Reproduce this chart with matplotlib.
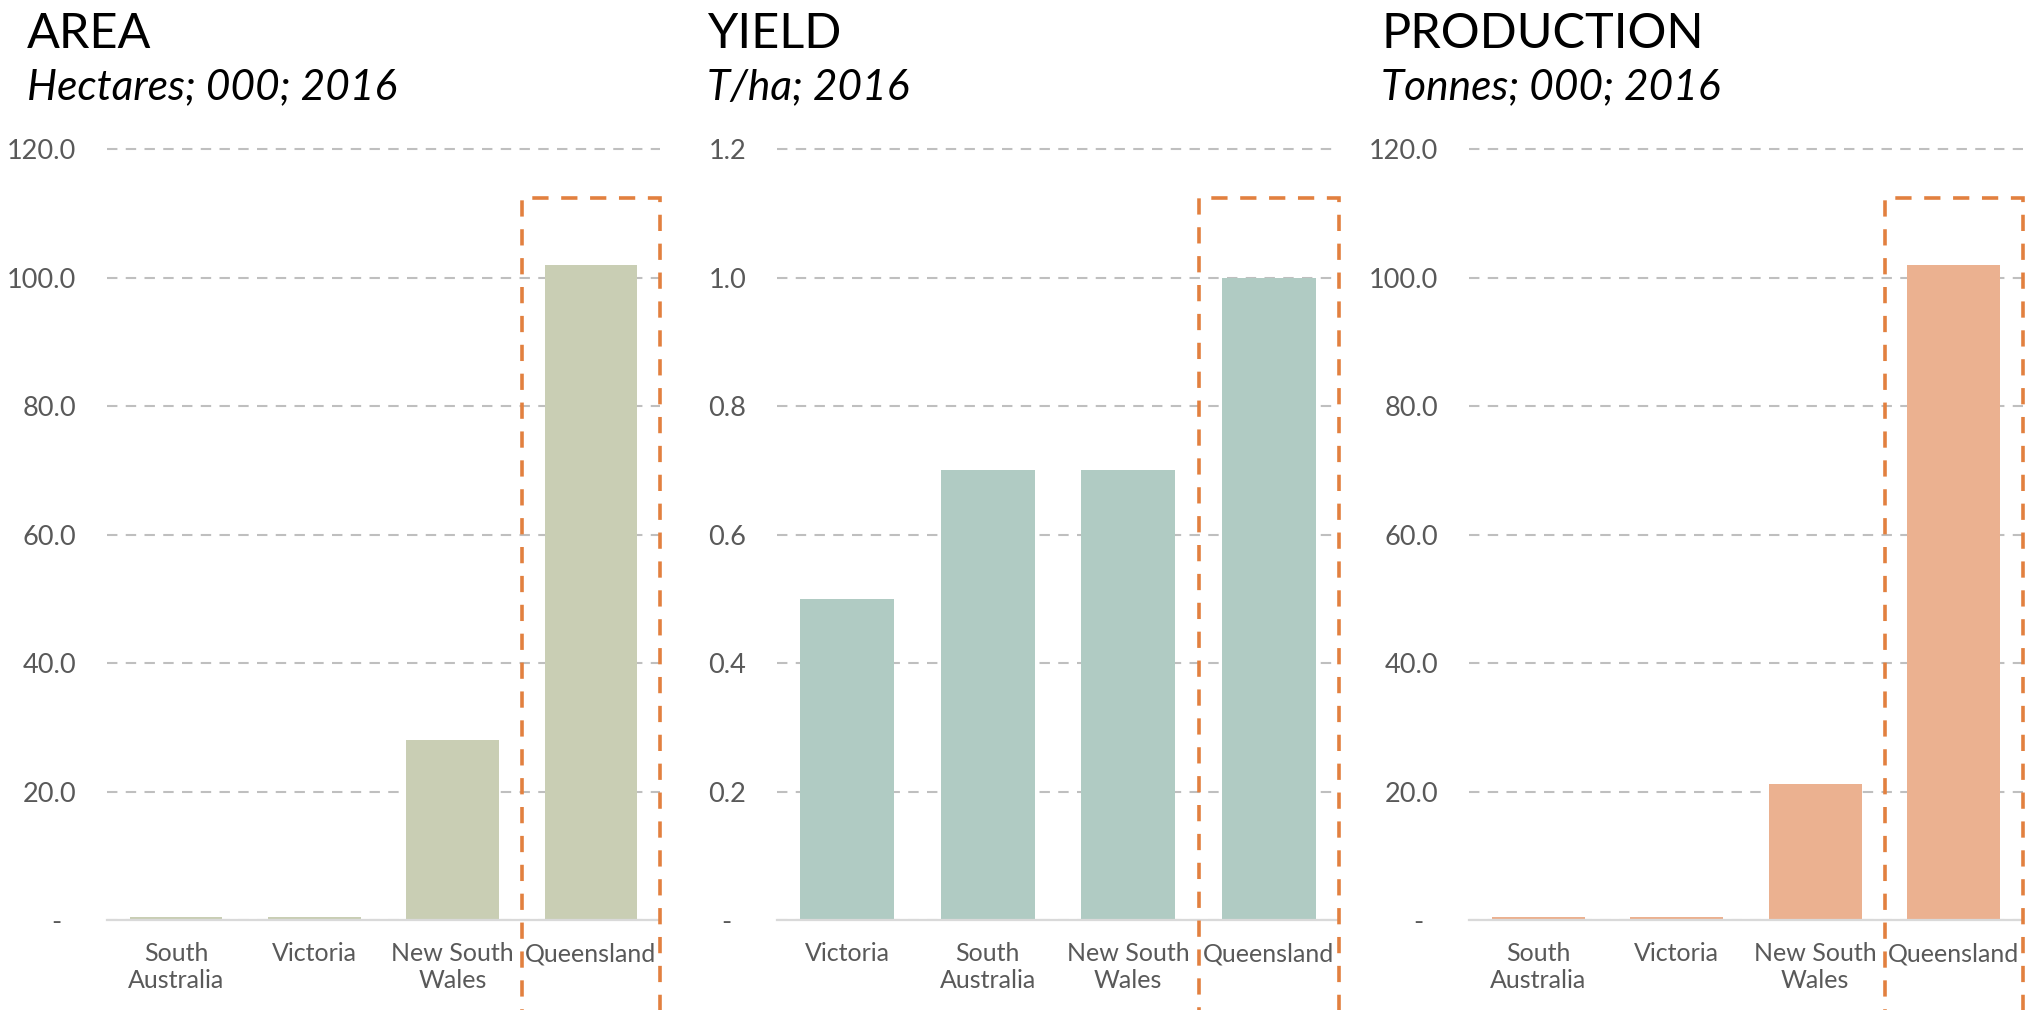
import matplotlib
matplotlib.use("Agg")
import matplotlib.pyplot as plt
from matplotlib.patches import Rectangle

plt.rcParams['font.family'] = ['Lato', 'DejaVu Sans']

# data
area_states = ["South\nAustralia", "Victoria", "New South\nWales", "Queensland"]
area_values = [0.5, 0.5, 28.0, 102.0]

yield_states = ["Victoria", "South\nAustralia", "New South\nWales", "Queensland"]
yield_values = [0.5, 0.7, 0.7, 1.0]

prod_states = ["South\nAustralia", "Victoria", "New South\nWales", "Queensland"]
prod_values = [0.4, 0.4, 21.2, 102.0]

area_ticks = [0, 20, 40, 60, 80, 100, 120]
yield_ticks = [0, 0.2, 0.4, 0.6, 0.8, 1.0, 1.2]
prod_ticks = [0, 20, 40, 60, 80, 100, 120]

W, H = 2038, 1010
fig = plt.figure(figsize=(W / 100, H / 100), dpi=100)

panels = [
    # title, subtitle, cats, vals, ticks, colour, left px, right px, title x px
    ("AREA", "Hectares; 000; 2016", area_states, area_values, area_ticks, "#C9CEB4", 107, 660, 27),
    ("YIELD", "T/ha; 2016", yield_states, yield_values, yield_ticks, "#B0CBC3", 777, 1339, 707),
    ("PRODUCTION", "Tonnes; 000; 2016", prod_states, prod_values, prod_ticks, "#EBB190", 1469, 2023, 1381),
]

box_col = "#E2803F"
tick_col = "#595959"

for title, sub, cats, vals, ticks, col, x0, x1, tx in panels:
    top = ticks[-1]
    ymax = top * 123 / 120
    ax = fig.add_axes([x0 / W, 90 / H, (x1 - x0) / W, 790 / H])
    xs = range(len(cats))
    ax.bar(xs, vals, width=0.67, color=col, zorder=2)
    ax.set_xlim(-0.5, len(cats) - 0.5)
    ax.set_ylim(0, ymax)

    ax.set_yticks(ticks)
    labels = []
    for t in ticks:
        if t == 0:
            labels.append("-  ")
        else:
            labels.append(f"{t:.1f}")
    ax.set_yticklabels(labels)
    ax.set_xticks(list(xs))
    ax.set_xticklabels(cats, linespacing=1.22)
    ax.tick_params(axis="y", length=0, pad=22, labelsize=19.5, labelcolor=tick_col)
    ax.tick_params(axis="x", length=0, pad=16, labelsize=18, labelcolor=tick_col)

    for s in ["left", "right", "top"]:
        ax.spines[s].set_visible(False)
    ax.spines["bottom"].set_color("#D9D9D9")
    ax.spines["bottom"].set_linewidth(1.6)
    ax.spines["bottom"].set_zorder(3)

    ax.yaxis.grid(True, color="#BFBFBF", linewidth=1.5, linestyle=(0, (5, 4)))
    ax.set_axisbelow(True)

    # dashed highlight round Queensland
    box_top = top * 112.4 / 120
    rect = Rectangle((len(cats) - 1.5, -0.3 * top), 1.0, box_top + 0.3 * top,
                     fill=False, edgecolor=box_col, linewidth=2.6,
                     linestyle=(0, (4.5, 3.5)), clip_on=False, zorder=4)
    ax.add_patch(rect)

    fig.text(tx / W, 1 - 48 / H, title, fontsize=35, va="baseline", ha="left", color="black")
    fig.text(tx / W, 1 - 99 / H, sub, fontsize=30.5, style="italic", va="baseline", ha="left", color="black")

fig.savefig("out.png", dpi=100)
